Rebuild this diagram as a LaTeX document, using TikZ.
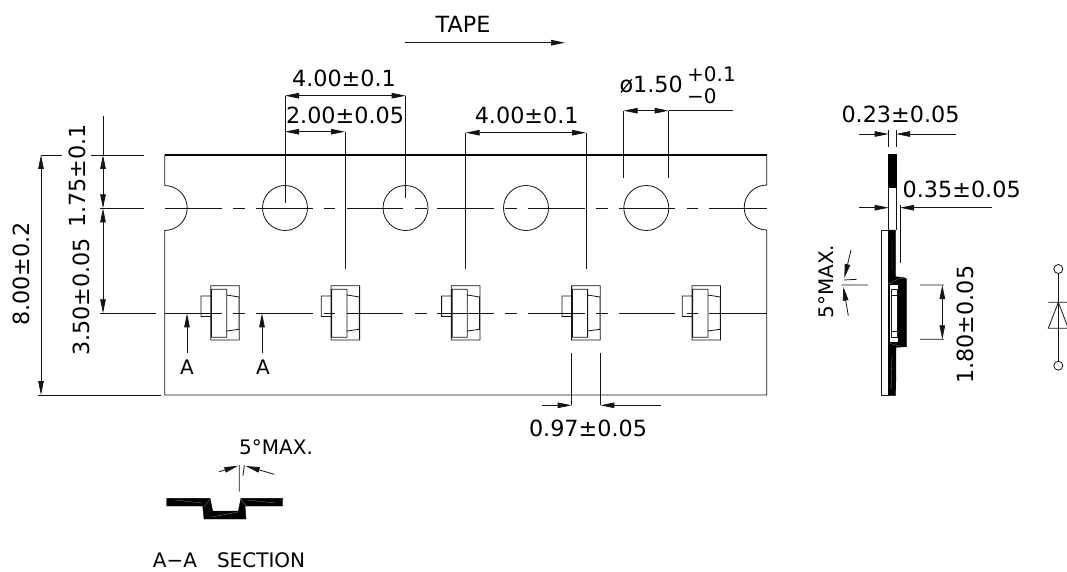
\documentclass[tikz,border=0pt]{standalone}
\usepackage{fontspec}
\usepackage{xcolor}
\usetikzlibrary{arrows.meta}
\setmainfont{DejaVu Sans}
\definecolor{scheme}{rgb}{0.08,0.08,0.08}
\tikzset{
	thinline/.style={line width=0.8pt,color=scheme},
	dimline/.style={thinline,{Stealth[length=14pt,width=5.5pt,inset=0pt]}-{Stealth[length=14pt,width=5.5pt,inset=0pt]}},
	leader/.style={thinline,-{Stealth[length=14pt,width=5.5pt,inset=0pt]}},
	dimtext/.style={inner sep=0pt,color=black,font=\fontsize{22.3}{22}\selectfont},
	smalltext/.style={inner sep=0pt,color=black,font=\fontsize{20}{20}\selectfont}
}

\begin{document}
\begin{tikzpicture}[x=1pt,y=-1pt]
				\useasboundingbox (0,0) rectangle (1067,572);
				\coordinate (c1) at (285,208);%holes
				\coordinate (c2) at (405.5,208);
				\coordinate (c3) at (526,208);
				\coordinate (c4) at (646.3,208);
				\coordinate (p1) at (201,313);%parts
				\coordinate (p2) at (321.3,313);
				\coordinate (p3) at (441.6,313);
				\coordinate (p4) at (561.9,313);
				\coordinate (p5) at (682.2,313);
				\coordinate (d1) at (1058.3,269);%diode ends
				\coordinate (d2) at (1058.3,365.7);
				
				%tape outline
				\draw[thinline] (164.7,185)--(164.7,155)--(766.7,155)--(766.7,185) arc (-90:-270:22.5)--(766.7,395)--(164.7,395)--(164.7,230.5) arc (90:-90:22.5);
				\draw[line width=1.1pt,color=black] (164.7,155)--(766.7,155);
				\draw[thinline] (c1) circle (22.5);
				\draw[thinline] (c2) circle (22.5);
				\draw[thinline] (c3) circle (22.5);
				\draw[thinline] (c4) circle (22.5);
				
				%center lines
				\draw[thinline] (100,208.3)--(144,208.3) (165,208.3)--(221.7,208.3) (233.3,208.3)--(245,208.3) (256,208.3)--(312.7,208.3) (324,208.3)--(335,208.3) (346.7,208.3)--(403.3,208.3) (415,208.3)--(426.7,208.3) (437.3,208.3)--(494,208.3) (505,208.3)--(516.7,208.3) (528,208.3)--(585,208.3) (596,208.3)--(607.7,208.3) (619,208.3)--(675,208.3) (686.7,208.3)--(698,208.3) (709,208.3)--(767,208.3);
				\draw[thinline] (100,313.3)--(155.7,313.3) (164.7,313.3)--(221.7,313.3) (233.3,313.3)--(245,313.3) (256,313.3)--(312.7,313.3) (324,313.3)--(335,313.3) (346.7,313.3)--(403.3,313.3) (415,313.3)--(426.7,313.3) (437.3,313.3)--(494,313.3) (505,313.3)--(516.7,313.3) (528,313.3)--(585,313.3) (596,313.3)--(607.7,313.3) (619,313.3)--(675,313.3) (686.7,313.3)--(698,313.3) (709,313.3)--(767,313.3);
				
				%parts on the tape
				\draw[thinline,shift={(p1)}] (10,-17)--(0,-17)--(0,3.5)--(10,3.5) (9.7,-27.3) rectangle (38.3,27) (10.5,-23.7) rectangle (25.7,24.3) (25.7,-18)--(38,-16)--(38,16.3)--(25.7,18);
				\draw[thinline,shift={(p2)}] (10,-17)--(0,-17)--(0,3.5)--(10,3.5) (9.7,-27.3) rectangle (38.3,27) (10.5,-23.7) rectangle (25.7,24.3) (25.7,-18)--(38,-16)--(38,16.3)--(25.7,18);
				\draw[thinline,shift={(p3)}] (10,-17)--(0,-17)--(0,3.5)--(10,3.5) (9.7,-27.3) rectangle (38.3,27) (10.5,-23.7) rectangle (25.7,24.3) (25.7,-18)--(38,-16)--(38,16.3)--(25.7,18);
				\draw[thinline,shift={(p4)}] (10,-17)--(0,-17)--(0,3.5)--(10,3.5) (9.7,-27.3) rectangle (38.3,27) (10.5,-23.7) rectangle (25.7,24.3) (25.7,-18)--(38,-16)--(38,16.3)--(25.7,18);
				\draw[thinline,shift={(p5)}] (10,-17)--(0,-17)--(0,3.5)--(10,3.5) (9.7,-27.3) rectangle (38.3,27) (10.5,-23.7) rectangle (25.7,24.3) (25.7,-18)--(38,-16)--(38,16.3)--(25.7,18);
				
				%tape direction
				\node[dimtext] (tapetxt) at (463,24) {TAPE};
				\draw[leader,line width=1.1pt] (405,42.7)--(565,42.7);
				
				%dimensions on the left
				\draw[thinline] (61.7,155)--(41,155) (38,395)--(161,395) (91,155)--(144,155) (103,116)--(103,155);
				\draw[dimline] (41,155)--(41,395);
				\draw[dimline] (103,155)--(103,208.3);
				\draw[dimline] (103,208.3)--(103,313.3);
				\node[dimtext,rotate=90] (w1) at (21,274) {8.00±0.2};
				\node[dimtext,rotate=90] (w2) at (77,176) {1.75±0.1};
				\node[dimtext,rotate=90] (w3) at (81,297) {3.50±0.05};
				
				%dimensions on the top
				\draw[thinline] (285,95.7)--(285,203) (405.7,95.7)--(405.7,198) (345,131.7)--(345,269) (465.7,132.7)--(465.7,269) (586,132.7)--(586,269) (623.7,110.7)--(623.7,178) (668.7,110.7)--(668.7,178) (668.7,110.7)--(733,110.7);
				\draw[dimline] (285,95.7)--(405.7,95.7);
				\draw[dimline] (285,131.7)--(345,131.7);
				\draw[dimline] (465.7,132.7)--(586,132.7);
				\draw[dimline] (623.7,110.7)--(668.7,110.7);
				\node[dimtext] (t1) at (344,78) {4.00±0.1};
				\node[dimtext] (t2) at (345,115) {2.00±0.05};
				\node[dimtext] (t3) at (526.7,115) {4.00±0.1};
				\node[dimtext,anchor=east] (t4) at (683,85) {ø1.50};
				\node[smalltext,anchor=west] (t5) at (687,74) {+0.1};
				\node[smalltext,anchor=west] (t6) at (687,96) {−0};
				
				%section marks and bottom dimension
				\draw[leader] (187,353)--(187,313.3);
				\draw[leader] (262,353)--(262,313.3);
				\node[smalltext] (a1) at (187,367) {A};
				\node[smalltext] (a2) at (263,367) {A};
				\draw[thinline] (571.7,352.7)--(571.7,405.3) (600.3,352.7)--(600.3,405.3);
				\draw[leader] (541.7,405.3)--(571.7,405.3);
				\draw[leader] (661,405.3)--(600.3,405.3);
				\node[dimtext] (b1) at (588,428) {0.97±0.05};
				
				%section A-A
				\filldraw[color=black] (166.7,498.3)--(210,498.3)--(212.7,511)--(238.3,511)--(241,498.3)--(282.7,498.3)--(282.7,506)--(245,506)--(246,519)--(204,519)--(202.7,506)--(166.7,506)--cycle;
				\draw[color=black!45,line width=0.3pt] (175,500)--(202,503) (204,507)--(210,499) (212,517)--(238,512) (241,499)--(246,506) (247,500)--(275,503);
				\draw[thinline] (239.3,465)--(239.3,491.7) (244.3,465)--(243,475.7);
				\draw[leader] (219.3,471.7)--(238.3,465.7);
				\draw[leader] (274.3,474.3)--(245.7,466);
				\node[smalltext] (s1) at (276,447.7) {5°MAX.};
				\node[smalltext] (s2) at (229,560.5) {A−A\hspace{1em}SECTION};
				
				%side view of the tape
				\filldraw[color=black] (888.5,154.3)--(896,154.3)--(896,186.7)--(888.5,186.7)--cycle;
				\draw[thinline] (888.7,186.7)--(888.7,230) (896,186.7)--(896,230);
				\draw[thinline] (881.7,230) rectangle (888.7,395.7);
				\filldraw[color=black] (888.3,230)--(895.7,230)--(895.7,276.7)--(904,277.7)--(906.7,279)--(906.7,346.7)--(896,347.3)--(895.7,395.7)--(888.3,395.7)--cycle;
				\fill[white] (890,285) rectangle (897.7,341.7);
				\draw[thinline] (891.3,289) rectangle (897,337.7) (891.3,295)--(897,295) (891.3,331.7)--(897,331.7);
				\draw[color=black!45,line width=0.3pt] (892,240)--(892,270) (889,284)--(898,279)--(904,278) (889,343)--(898,346)--(904,346) (892,355)--(891,390);
				
				%dimensions of the side view
				\draw[thinline] (888.7,130)--(888.7,146.7) (896,130)--(896,146.7) (900,205)--(900,263.3);
				\draw[leader] (859,134)--(888.7,134);
				\draw[leader] (956,134)--(896,134);
				\draw[leader] (859,207.7)--(888.7,207.7);
				\draw[leader] (991.7,207.7)--(900,207.7);
				\node[dimtext] (e1) at (900.5,114) {0.23±0.05};
				\node[dimtext] (e2) at (961.7,189) {0.35±0.05};
				\draw[thinline] (841.7,285)--(868,285) (844,280)--(856.7,279.3) (920,285)--(944,285) (920,339.3)--(944,339.3);
				\draw[leader] (851,250)--(844.3,278);
				\draw[leader] (848.3,315.7)--(843.3,286.7);
				\draw[dimline] (942.3,285)--(942.3,339.3);
				\node[smalltext,rotate=90] (e3) at (826,281.7) {5°MAX.};
				\node[dimtext,rotate=90] (e4) at (965,324.7) {1.80±0.05};
				
				%diode
				\node[draw=scheme,line width=0.8pt,circle,minimum size=9pt,inner sep=0pt] (k1) at (d1) {};
				\node[draw=scheme,line width=0.8pt,circle,minimum size=9pt,inner sep=0pt] (k2) at (d2) {};
				\draw[thinline] (k1)--(k2);
				\draw[thinline] (1048.3,302.3)--(1068.3,302.3) (1058.3,302.3)--(1048.3,328.3)--(1068.3,328.3)--cycle;
			\end{tikzpicture}
\end{document}
